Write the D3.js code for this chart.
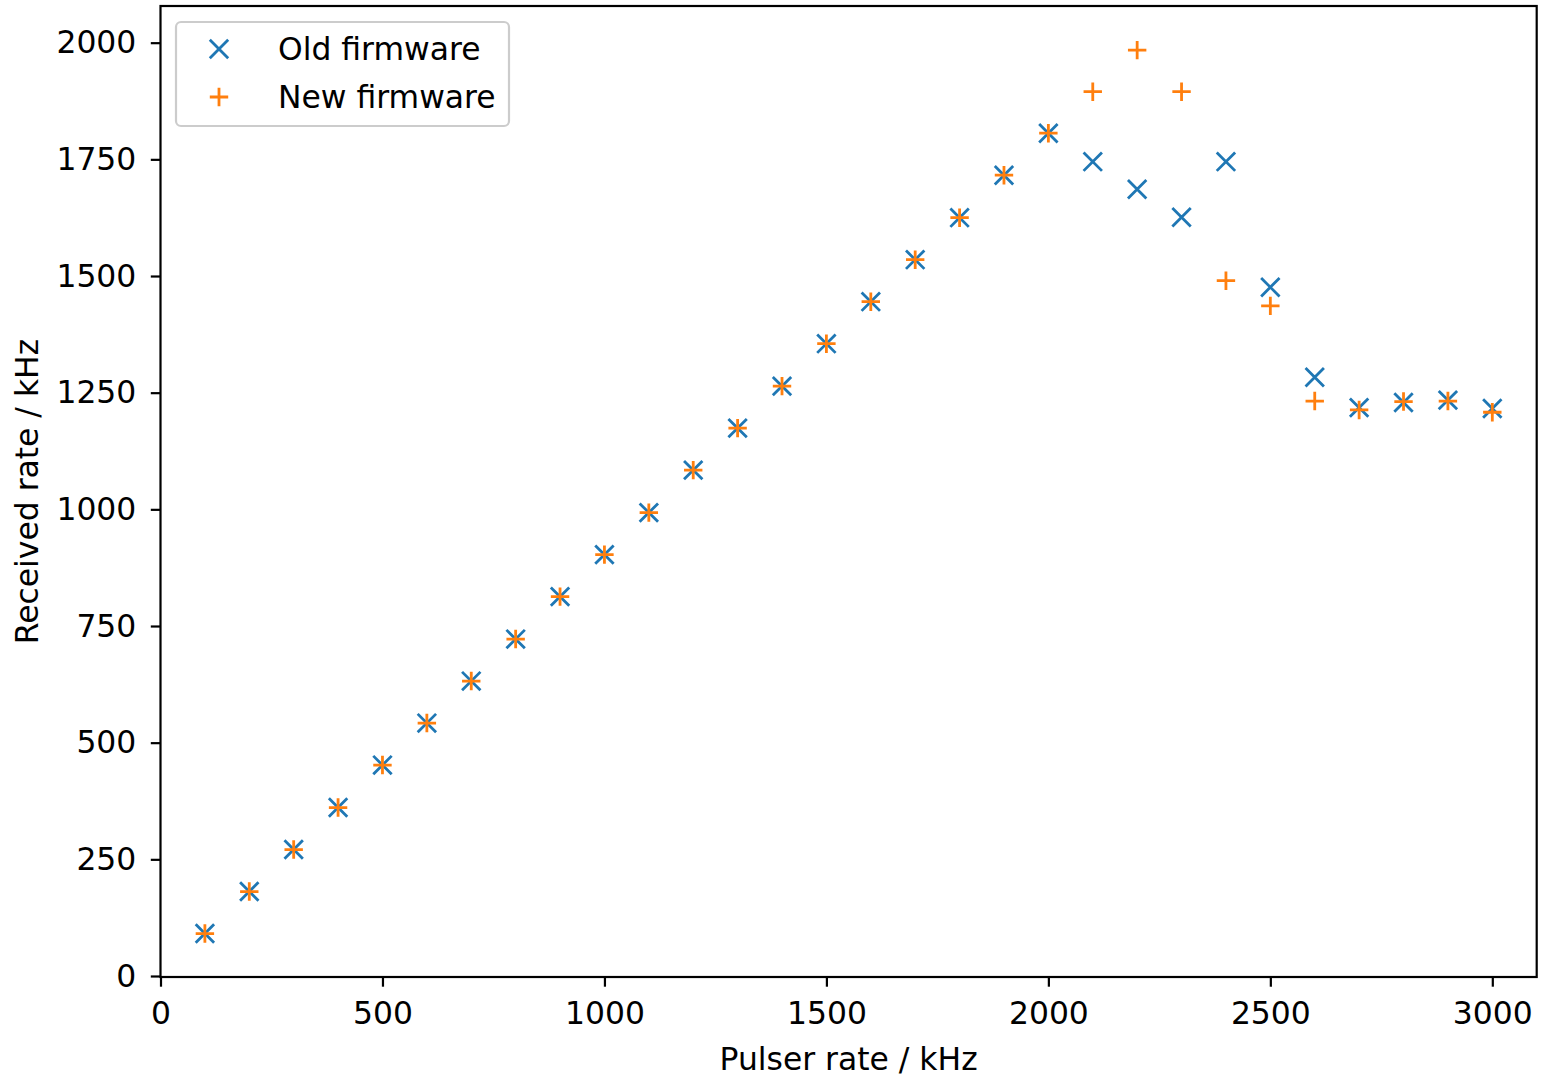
<!DOCTYPE html>
<html><head><meta charset="utf-8">
<script src="https://cdn.jsdelivr.net/npm/d3@7"></script>
<style>body{margin:0;background:#fff;} text{font-family:"DejaVu Sans",sans-serif;}</style>
</head><body>
<svg id="c" width="1544" height="1077"></svg>
<script>
const pulser = [100,200,300,400,500,600,700,800,900,1000,1100,1200,1300,1400,1500,1600,1700,1800,1900,2000,2100,2200,2300,2400,2500,2600,2700,2800,2900,3000];
const oldFw = [91,181,271,361,452,542,632,722,813,903,993,1084,1174,1264,1355,1445,1535,1625,1716,1806,1745,1686,1626,1745,1476,1283,1218,1229,1234,1216];
const newFw = [91,181,271,361,452,542,632,722,813,903,993,1084,1174,1264,1355,1445,1535,1625,1716,1806,1895,1984,1895,1490,1436,1232,1213,1231,1232,1208];
const xTicks = [0,500,1000,1500,2000,2500,3000];
const yTicks = [0,250,500,750,1000,1250,1500,1750,2000];

const svg = d3.select('#c');
const L=160.5, R=1536.7, T=6, B=977;
const x = d3.scaleLinear().domain([0,3100]).range([L,R]);
const y = d3.scaleLinear().domain([0,2078.6]).range([B-1,T]);
const fs = 31.4;

const gx = svg.append('g').attr('transform',`translate(0,${B})`)
  .call(d3.axisBottom(x).tickValues(xTicks).tickSize(9.7).tickPadding(15).tickFormat(d3.format('d')));
const gy = svg.append('g').attr('transform',`translate(${L},0)`)
  .call(d3.axisLeft(y).tickValues(yTicks).tickSize(9.7).tickPadding(14.5).tickFormat(d3.format('d')));
[gx,gy].forEach(g=>{
  g.select('.domain').remove();
  g.selectAll('line').attr('stroke','#000').attr('stroke-width',2.2);
  g.selectAll('text').attr('font-size',fs).attr('fill','#000').attr('font-family','DejaVu Sans');
});

svg.append('rect').attr('x',L).attr('y',T).attr('width',R-L).attr('height',B-T)
  .attr('fill','none').attr('stroke','#000').attr('stroke-width',2.2);

const h = 9.2, sw = 2.8;
const gOld = svg.append('g');
pulser.forEach((p,i)=>{
  const cx=x(p), cy=y(oldFw[i]);
  gOld.append('path').attr('d',`M${cx-h},${cy-h}L${cx+h},${cy+h}M${cx-h},${cy+h}L${cx+h},${cy-h}`)
    .attr('stroke','#1f77b4').attr('stroke-width',sw).attr('fill','none');
});
const gNew = svg.append('g');
pulser.forEach((p,i)=>{
  const cx=x(p), cy=y(newFw[i]);
  gNew.append('path').attr('d',`M${cx-h},${cy}L${cx+h},${cy}M${cx},${cy-h}L${cx},${cy+h}`)
    .attr('stroke','#ff7f0e').attr('stroke-width',sw).attr('fill','none');
});

// legend
const lg = svg.append('g');
lg.append('rect').attr('x',176).attr('y',22).attr('width',333).attr('height',104).attr('rx',5)
  .attr('fill','#fff').attr('fill-opacity',0.8).attr('stroke','#cccccc').attr('stroke-width',2.2);
const legendItems = [{label:'Old firmware', type:'x', color:'#1f77b4', cy:49},{label:'New firmware', type:'+', color:'#ff7f0e', cy:97}];
legendItems.forEach(it=>{
  const cx=219, cy=it.cy;
  const d = it.type==='x' ? `M${cx-h},${cy-h}L${cx+h},${cy+h}M${cx-h},${cy+h}L${cx+h},${cy-h}` : `M${cx-h},${cy}L${cx+h},${cy}M${cx},${cy-h}L${cx},${cy+h}`;
  lg.append('path').attr('d',d).attr('stroke',it.color).attr('stroke-width',sw).attr('fill','none');
  lg.append('text').attr('x',278).attr('y',cy+11).attr('font-size',fs).attr('fill','#000').text(it.label);
});

svg.append('text').attr('x',(L+R)/2).attr('y',1070).attr('text-anchor','middle').attr('font-size',fs).text('Pulser rate / kHz');
svg.append('text').attr('transform',`translate(38,${(T+B)/2}) rotate(-90)`).attr('text-anchor','middle').attr('font-size',fs).text('Received rate / kHz');
</script>
</body></html>
